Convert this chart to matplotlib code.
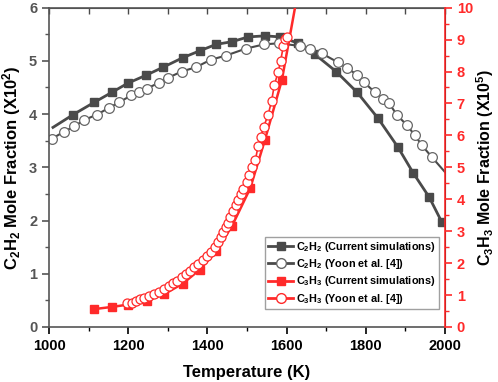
import matplotlib
matplotlib.use("Agg")
import matplotlib.pyplot as plt
from matplotlib.ticker import MultipleLocator

plt.rcParams['font.family'] = ['Liberation Sans', 'DejaVu Sans']
plt.rcParams['font.weight'] = 'bold'
plt.rcParams['mathtext.fontset'] = 'custom'
plt.rcParams['mathtext.rm'] = 'Liberation Sans:bold'
plt.rcParams['mathtext.default'] = 'rm'

# C2H2, current simulations (left axis, x10^2); first point has no symbol
t_c2h2_sim = [1010, 1061, 1114, 1159, 1199, 1245, 1288, 1338, 1381, 1422, 1462, 1503,
              1545, 1584, 1630, 1672, 1725, 1778, 1831, 1881, 1920, 1960, 1992]
c2h2_sim = [3.75, 3.99, 4.22, 4.41, 4.58, 4.73, 4.88, 5.06, 5.19, 5.31, 5.36, 5.45,
            5.47, 5.45, 5.33, 5.12, 4.80, 4.41, 3.92, 3.38, 2.89, 2.44, 1.97]

# C2H2, Yoon et al. (left axis); last point has no symbol
t_c2h2_yoon = [1008, 1038, 1064, 1089, 1121, 1152, 1177, 1207, 1227, 1247, 1278, 1300,
               1335, 1371, 1408, 1447, 1497, 1543, 1580, 1634, 1659, 1689, 1730, 1753,
               1778, 1795, 1823, 1843, 1859, 1879, 1904, 1924, 1942, 1967, 2000]
c2h2_yoon = [3.54, 3.67, 3.77, 3.89, 3.99, 4.12, 4.22, 4.35, 4.41, 4.48, 4.59, 4.68,
             4.80, 4.88, 5.02, 5.10, 5.23, 5.31, 5.33, 5.28, 5.22, 5.14, 4.97, 4.86,
             4.74, 4.60, 4.41, 4.29, 4.20, 3.98, 3.79, 3.60, 3.41, 3.19, 2.91]

# C3H3, current simulations (right axis, x10^5)
t_c3h3_sim = [1114, 1160, 1199, 1247, 1291, 1338, 1381, 1422, 1462, 1508, 1545, 1588, 1630]
c3h3_sim = [0.56, 0.63, 0.70, 0.82, 1.03, 1.36, 1.80, 2.37, 3.16, 4.34, 5.85, 7.73, 10.6]

# C3H3, Yoon et al. (right axis)
t_c3h3_yoon = [1198, 1209, 1220, 1230, 1240, 1253, 1265, 1278, 1290, 1303, 1314, 1324,
               1337, 1346, 1356, 1366, 1377, 1388, 1398, 1408, 1419, 1428, 1434, 1440,
               1447, 1453, 1458, 1465, 1471, 1478, 1484, 1491, 1499, 1505, 1513, 1521,
               1528, 1535, 1542, 1553, 1562, 1569, 1579, 1585, 1592, 1596, 1600]
c3h3_yoon = [0.74, 0.76, 0.81, 0.87, 0.92, 0.97, 1.03, 1.10, 1.18, 1.28, 1.37, 1.45,
             1.57, 1.66, 1.76, 1.87, 1.97, 2.09, 2.22, 2.35, 2.51, 2.67, 2.82, 2.98,
             3.12, 3.26, 3.45, 3.63, 3.81, 3.99, 4.16, 4.33, 4.54, 4.75, 5.00, 5.22,
             5.66, 5.95, 6.27, 6.63, 7.07, 7.58, 8.00, 8.34, 8.81, 9.02, 9.07]

gray = '#4a4a4a'
red = '#ff2a2a'

fig = plt.figure(figsize=(4.98, 3.82), dpi=100)
ax = fig.add_axes([0.0984, 0.144, 0.7952, 0.836])
ax2 = ax.twinx()

# gray series
ax.plot(t_c2h2_sim, c2h2_sim, '-', color=gray, lw=2)
ax.plot(t_c2h2_sim[1:], c2h2_sim[1:], 's', color=gray, ms=6, ls='none')
ax.plot(t_c2h2_yoon, c2h2_yoon, '-', color=gray, lw=1.5)
ax.plot(t_c2h2_yoon[:-1], c2h2_yoon[:-1], 'o', mfc='white', mec='#666666', mew=0.9,
        ms=7, ls='none')

# red series
ax2.plot(t_c3h3_sim, c3h3_sim, '-', color=red, lw=1.8)
ax2.plot(t_c3h3_sim, c3h3_sim, 's', color=red, ms=6, ls='none')
ax2.plot(t_c3h3_yoon, c3h3_yoon, '-', color=red, lw=1.2)
ax2.plot(t_c3h3_yoon, c3h3_yoon, 'o', mfc='white', mec=red, mew=0.9, ms=6.5, ls='none')

ax.set_xlim(1000, 2000)
ax.set_ylim(0, 6)
ax2.set_ylim(0, 10)

ax.xaxis.set_major_locator(MultipleLocator(200))
ax.xaxis.set_minor_locator(MultipleLocator(100))
ax.yaxis.set_major_locator(MultipleLocator(1))
ax.yaxis.set_minor_locator(MultipleLocator(0.5))
ax2.yaxis.set_major_locator(MultipleLocator(1))
ax2.yaxis.set_minor_locator(MultipleLocator(0.5))

ax.tick_params(axis='x', which='major', direction='out', length=5, width=1.2,
               labelsize=10.5, colors='black', pad=4)
ax.tick_params(axis='x', which='minor', direction='out', length=3, width=1)
ax.tick_params(axis='y', which='major', direction='out', length=5, width=1.2,
               labelsize=10.5, colors='#555555')
ax.tick_params(axis='y', which='minor', direction='out', length=3, width=1,
               colors='#555555')
ax2.tick_params(axis='y', which='major', direction='out', length=5, width=1.2,
                labelsize=10.5, colors=red)
ax2.tick_params(axis='y', which='minor', direction='out', length=3, width=1, colors=red)

top = ax.secondary_xaxis('top')
top.xaxis.set_major_locator(MultipleLocator(100))
top.tick_params(direction='in', length=4, width=1, labeltop=False, colors=gray)

for s in ['left', 'bottom', 'top']:
    ax.spines[s].set_color('#555555')
    ax.spines[s].set_linewidth(1.2)
top.spines['top'].set_color(gray)
ax2.spines['right'].set_color(red)
ax2.spines['right'].set_linewidth(1.2)
for s in ['left', 'bottom', 'top']:
    ax2.spines[s].set_visible(False)

ax.set_xlabel('Temperature (K)', fontsize=12, fontweight='bold', labelpad=8)
ax.set_ylabel('C$_2$H$_2$ Mole Fraction (X10$^2$)', fontsize=12, fontweight='bold',
              labelpad=4)
ax2.set_ylabel('C$_3$H$_3$ Mole Fraction (X10$^5$)', fontsize=11.5, fontweight='bold',
               labelpad=1)

# legend proxies
h1, = ax.plot([], [], '-s', color=gray, ms=6, lw=2)
h2, = ax.plot([], [], '-o', color=gray, mfc='white', mec='#666666', ms=7, lw=2)
h3, = ax.plot([], [], '-s', color=red, ms=6, lw=2)
h4, = ax.plot([], [], '-o', color=red, mfc='white', mec=red, ms=7, lw=2)
leg = ax2.legend([h1, h2, h3, h4],
                 ['C$_2$H$_2$ (Current simulations)', 'C$_2$H$_2$ (Yoon et al. [4])',
                  'C$_3$H$_3$ (Current simulations)', 'C$_3$H$_3$ (Yoon et al. [4])'],
                 loc='upper left', bbox_to_anchor=(0.545, 0.283), fontsize=7.8,
                 frameon=True, fancybox=False, handlelength=2.3, handletextpad=0.3,
                 borderpad=0.3, labelspacing=0.3, borderaxespad=0)
leg.get_frame().set_edgecolor('#888888')
leg.get_frame().set_linewidth(1.0)
for t in leg.get_texts():
    t.set_fontweight('bold')

fig.savefig('out.png', dpi=100)
